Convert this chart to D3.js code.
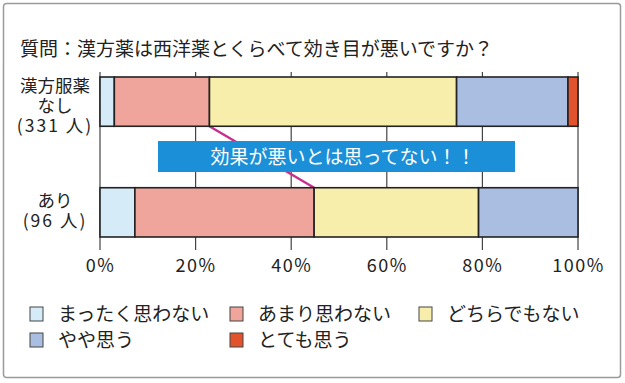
<!DOCTYPE html>
<html>
<head>
<meta charset="utf-8">
<script src="https://cdn.jsdelivr.net/npm/d3@7"></script>
<style>
  body { margin: 0; background: #fff; }
  text { font-family: "Noto Sans CJK JP", "Noto Sans", sans-serif; fill: #222; }
</style>
</head>
<body>
<div id="chart"></div>
<script>
var categories = ['なし', 'あり'];
var catLabels = [['漢方服薬', 'なし', '(331 人)'], ['あり', '(96 人)']];
var seriesNames = ['まったく思わない', 'あまり思わない', 'どちらでもない', 'やや思う', 'とても思う'];
var seriesColors = ['#d5ebf8', '#f0a59c', '#f8eeab', '#a9bee0', '#e0532d'];
var values = [
  [3.0, 19.9, 51.7, 23.3, 2.1],
  [7.3, 37.5, 34.4, 20.8, 0]
];
var tickValues = [0, 20, 40, 60, 80, 100];
var title = '質問：漢方薬は西洋薬とくらべて効き目が悪いですか？';
var callout = '効果が悪いとは思ってない！！';

var svg = d3.select('#chart').append('svg')
  .attr('width', 625)
  .attr('height', 383);

// frame
svg.append('rect')
  .attr('x', 3.5).attr('y', 3.5)
  .attr('width', 617).attr('height', 374)
  .attr('rx', 3)
  .attr('fill', '#fff')
  .attr('stroke', '#9a9a9a')
  .attr('stroke-width', 1.5);

var x = d3.scaleLinear().domain([0, 100]).range([100, 578]);
var y = d3.scaleBand().domain(categories).range([77, 237]).paddingInner(0.555);

svg.append('text')
  .attr('x', 20).attr('y', 56)
  .attr('font-size', 19)
  .text(title);

// grid lines
svg.append('g').selectAll('line')
  .data(tickValues)
  .enter().append('line')
  .attr('x1', function (d) { return x(d); })
  .attr('x2', function (d) { return x(d); })
  .attr('y1', 72).attr('y2', 250)
  .attr('stroke', '#444')
  .attr('stroke-width', 1.2);

// connector line between bars
var cum0 = values[0][0] + values[0][1];
var cum1 = values[1][0] + values[1][1];
svg.append('line')
  .attr('x1', x(cum0)).attr('y1', y('なし') + y.bandwidth())
  .attr('x2', x(cum1)).attr('y2', y('あり'))
  .attr('stroke', '#c8308a')
  .attr('stroke-width', 2.5);

// stacked bars
var rows = svg.append('g').selectAll('g.row')
  .data(categories)
  .enter().append('g')
  .attr('class', 'row');

rows.each(function (c, i) {
  var acc = 0;
  var segs = values[i].map(function (v, j) {
    var s = { start: acc, value: v, color: seriesColors[j] };
    acc += v;
    return s;
  }).filter(function (s) { return s.value > 0; });
  d3.select(this).selectAll('rect')
    .data(segs)
    .enter().append('rect')
    .attr('x', function (s) { return x(s.start); })
    .attr('width', function (s) { return x(s.start + s.value) - x(s.start); })
    .attr('y', y(c))
    .attr('height', y.bandwidth())
    .attr('fill', function (s) { return s.color; })
    .attr('stroke', '#222')
    .attr('stroke-width', 1.6);
});

// callout box
svg.append('rect')
  .attr('x', 158).attr('y', 141)
  .attr('width', 357).attr('height', 31)
  .attr('fill', '#1b8fd7');
svg.append('text')
  .attr('x', 343).attr('y', 164)
  .attr('text-anchor', 'middle')
  .attr('font-size', 19)
  .style('fill', '#fff')
  .text(callout);

// category labels
var baselines = [[92, 112, 132], [207, 227]];
categories.forEach(function (c, i) {
  svg.append('g').selectAll('text')
    .data(catLabels[i])
    .enter().append('text')
    .attr('x', 55)
    .attr('y', function (d, k) { return baselines[i][k]; })
    .attr('text-anchor', 'middle')
    .attr('font-size', 17.5)
    .attr('letter-spacing', function (d) { return d.charAt(0) === '(' ? 2 : 0; })
    .text(function (d) { return d; });
});

// x axis labels
var axis = d3.axisBottom(x)
  .tickValues(tickValues)
  .tickSize(0)
  .tickPadding(0)
  .tickFormat(function (d) { return d + '%'; });
var ag = svg.append('g').attr('transform', 'translate(0,258)').call(axis);
ag.select('.domain').remove();
ag.selectAll('text')
  .attr('font-size', 18)
  .attr('dy', '0.8em')
  .attr('letter-spacing', 1.5)
  .style('font-family', '"Noto Sans CJK JP", sans-serif')
  .style('fill', '#222');

// legend
var legendPos = [[30, 307], [230, 307], [419, 307], [30, 333], [230, 333]];
var lg = svg.append('g').selectAll('g')
  .data(seriesNames)
  .enter().append('g')
  .attr('transform', function (d, i) {
    return 'translate(' + legendPos[i][0] + ',' + legendPos[i][1] + ')';
  });
lg.append('rect')
  .attr('width', 13).attr('height', 14)
  .attr('fill', function (d, i) { return seriesColors[i]; })
  .attr('stroke', '#444')
  .attr('stroke-width', 1);
lg.append('text')
  .attr('x', 28).attr('y', 14)
  .attr('font-size', 19)
  .text(function (d) { return d; });
</script>
</body>
</html>
